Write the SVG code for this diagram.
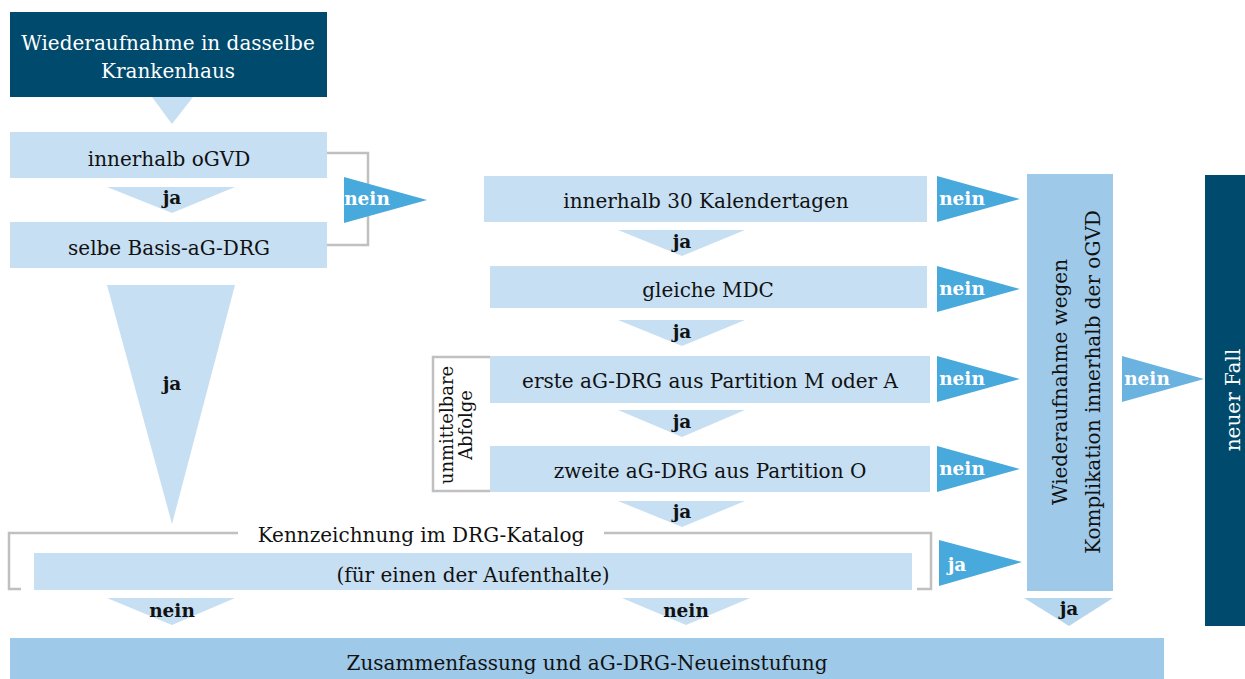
<svg xmlns="http://www.w3.org/2000/svg" width="1245" height="679" viewBox="0 0 1245 679">
<style>
.t{font-family:"DejaVu Serif","Liberation Serif",serif;font-size:20px;fill:#111;text-anchor:middle}
.b{font-family:"DejaVu Serif","Liberation Serif",serif;font-size:18.5px;font-weight:bold;fill:#111;text-anchor:middle}
.t.w,.b.w{fill:#fff}
.dark{fill:#004a6d}
.light{fill:#c6dff3}
.mid{fill:#9ec9e8}
.arr{fill:#48a9dc}
.tri{fill:#c6dff3}
.br{fill:none;stroke:#c0c0c0;stroke-width:2.5}
</style>
<rect width="1245" height="679" fill="#fff"/>
<g id="connectors">
<polygon class="tri" points="152,97 193,97 172,124"/>
<polygon class="tri" points="107,187 235,187 172,213"/>
<text class="b" x="172" y="204">ja</text>
<polyline class="br" points="327,153 368,153 368,245 327,245"/>
<polygon class="arr" points="344,177 344,223 427,200"/>
<text class="b w" x="367" y="205">nein</text>
<polygon class="tri" points="107,285 235,285 172,524"/>
<text class="b" x="172" y="390">ja</text>
<polygon class="tri" points="618,230 745,230 682,256"/>
<text class="b" x="682" y="248">ja</text>
<polygon class="tri" points="618,320 745,320 682,346"/>
<text class="b" x="682" y="338">ja</text>
<polygon class="tri" points="618,410 745,410 682,437"/>
<text class="b" x="682" y="428">ja</text>
<polygon class="tri" points="618,501 745,501 682,527"/>
<text class="b" x="682" y="518">ja</text>
<polygon class="arr" points="937,176 937,222 1020,199"/>
<text class="b w" x="962" y="205">nein</text>
<polygon class="arr" points="937,266 937,312 1020,289"/>
<text class="b w" x="962" y="295">nein</text>
<polygon class="arr" points="937,356 937,402 1020,379"/>
<text class="b w" x="962" y="385">nein</text>
<polygon class="arr" points="937,446 937,492 1020,469"/>
<text class="b w" x="962" y="475">nein</text>
<polygon class="arr" points="939,540 939,586 1022,562"/>
<text class="b w" x="957" y="571">ja</text>
<polygon fill="#6ab3e0" points="1122,356 1122,402 1204,379"/>
<text class="b w" x="1147" y="385">nein</text>
<polygon class="tri" points="107,598 235,598 172,625"/>
<text class="b" x="172" y="617">nein</text>
<polygon class="tri" points="622,598 750,598 686,625"/>
<text class="b" x="686" y="617">nein</text>
<polygon fill="#b5d6ef" points="1024,598 1113,598 1069,626"/>
<text class="b" x="1069" y="615">ja</text>
</g>
<g id="n-start">
<rect class="dark" x="10" y="12" width="317" height="85"/>
<text class="t w" x="168" y="50">Wiederaufnahme in dasselbe</text>
<text class="t w" x="168" y="78">Krankenhaus</text>
</g>
<g id="n-ogvd">
<rect class="light" x="10" y="132" width="317" height="46"/>
<text class="t" x="169" y="166">innerhalb oGVD</text>
</g>
<g id="n-basis">
<rect class="light" x="10" y="222" width="317" height="46"/>
<text class="t" x="169" y="255">selbe Basis-aG-DRG</text>
</g>
<g id="n-30tage">
<rect class="light" x="484" y="176" width="443" height="46"/>
<text class="t" x="706" y="208">innerhalb 30 Kalendertagen</text>
</g>
<g id="n-mdc">
<rect class="light" x="490" y="266" width="437" height="42"/>
<text class="t" x="708" y="297">gleiche MDC</text>
</g>
<g id="n-erste">
<rect class="light" x="490" y="356" width="440" height="47"/>
<text class="t" x="710" y="388">erste aG-DRG aus Partition M oder A</text>
</g>
<g id="n-zweite">
<rect class="light" x="490" y="446" width="440" height="46"/>
<text class="t" x="710" y="478">zweite aG-DRG aus Partition O</text>
</g>
<g id="n-abfolge">
<polyline class="br" points="490,357 433,357 433,491 490,491"/>
<text class="t" style="font-size:18px" transform="translate(453,425) rotate(-90)">unmittelbare</text>
<text class="t" style="font-size:18px" transform="translate(472,425) rotate(-90)">Abfolge</text>
</g>
<g id="n-kennzeichnung">
<polyline class="br" points="238,533 9,533 9,589 21,589"/>
<polyline class="br" points="604,533 931,533 931,589 917,589"/>
<text class="t" x="421" y="542">Kennzeichnung im DRG-Katalog</text>
<rect class="light" x="34" y="553" width="878" height="37"/>
<text class="t" x="473" y="582">(für einen der Aufenthalte)</text>
</g>
<g id="n-komplikation">
<rect class="mid" x="1027" y="174" width="86" height="417"/>
<text class="t" transform="translate(1067,382) rotate(-90)">Wiederaufnahme wegen</text>
<text class="t" transform="translate(1100,382) rotate(-90)">Komplikation innerhalb der oGVD</text>
</g>
<g id="n-neuerfall">
<rect class="dark" x="1205" y="175" width="40" height="451"/>
<text class="t w" transform="translate(1240,400) rotate(-90)">neuer Fall</text>
</g>
<g id="n-zusammenfassung">
<rect class="mid" x="10" y="638" width="1154" height="41"/>
<text class="t" x="587" y="670">Zusammenfassung und aG-DRG-Neueinstufung</text>
</g>
</svg>
